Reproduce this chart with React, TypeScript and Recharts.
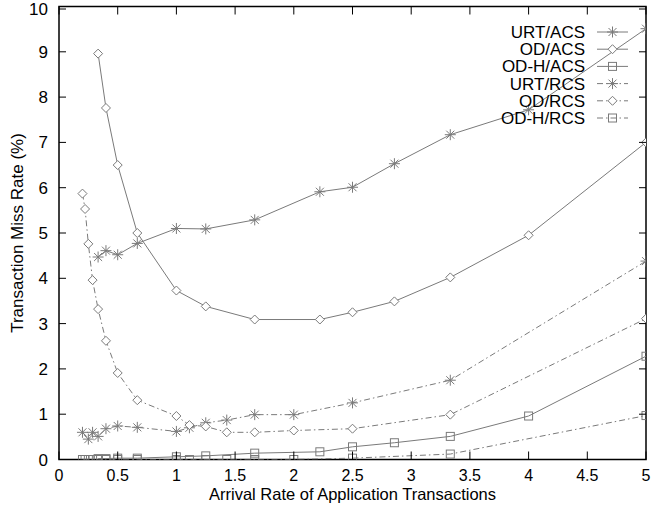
import { LineChart, Line, XAxis, YAxis, ReferenceArea } from 'recharts'

// arrival rates (x) used by the two scheduler families
const acsRates = [0.333, 0.4, 0.5, 0.667, 1, 1.25, 1.667, 2.222, 2.5, 2.857, 3.333, 4, 5]
const rcsRates = [0.2, 0.222, 0.25, 0.286, 0.333, 0.4, 0.5, 0.667, 1, 1.111, 1.25, 1.429, 1.667, 2, 2.5, 3.333, 5]
const rcsRatesUrt = [0.2, 0.25, 0.286, 0.333, 0.4, 0.5, 0.667, 1, 1.111, 1.25, 1.429, 1.667, 2, 2.5, 3.333, 5]

// miss rates (%)
const urtAcs = [4.47, 4.61, 4.52, 4.77, 5.1, 5.09, 5.29, 5.91, 6.01, 6.53, 7.17, 7.72, 9.51]
const odAcs = [8.96, 7.76, 6.5, 5.0, 3.73, 3.38, 3.09, 3.09, 3.25, 3.49, 4.02, 4.95, 7.0]
const odhAcs = [0.02, 0.02, 0.03, 0.03, 0.06, 0.08, 0.14, 0.17, 0.28, 0.37, 0.51, 0.96, 2.28]
const urtRcs = [0.6, 0.45, 0.6, 0.51, 0.68, 0.74, 0.71, 0.62, 0.7, 0.81, 0.87, 0.99, 0.99, 1.25, 1.75, 4.38]
const odRcs = [5.87, 5.53, 4.76, 3.96, 3.32, 2.62, 1.91, 1.31, 0.96, 0.76, 0.73, 0.6, 0.6, 0.64, 0.68, 0.99, 3.11]
const odhRcs = [0, 0, 0, 0, 0, 0, 0, 0, 0, 0, 0, 0, 0, 0, 0.03, 0.12, 0.97]

const xTicks = [0, 0.5, 1, 1.5, 2, 2.5, 3, 3.5, 4, 4.5, 5]
const yTicks = [0, 1, 2, 3, 4, 5, 6, 7, 8, 9, 10]

const FONT = "'Liberation Sans', Arial, Helvetica, sans-serif"
const GREY = '#7a7a7a'
const DASH_DOT = '6 3 1.5 3'

const PLOT_TOP = 6.5
const PLOT_BOTTOM = 459.5
const PLOT_LEFT = 59
const PLOT_RIGHT = 646

const zip = (xs: number[], ys: number[]) => xs.map((x, i) => ({ x, y: ys[i] }))

type MarkerKind = 'star' | 'diamond' | 'square'

const series: { name: string; data: { x: number; y: number }[]; marker: MarkerKind; dash?: string }[] = [
  { name: 'URT/ACS', data: zip(acsRates, urtAcs), marker: 'star' },
  { name: 'OD/ACS', data: zip(acsRates, odAcs), marker: 'diamond' },
  { name: 'OD-H/ACS', data: zip(acsRates, odhAcs), marker: 'square' },
  { name: 'URT/RCS', data: zip(rcsRatesUrt, urtRcs), marker: 'star', dash: DASH_DOT },
  { name: 'OD/RCS', data: zip(rcsRates, odRcs), marker: 'diamond', dash: DASH_DOT },
  { name: 'OD-H/RCS', data: zip(rcsRates, odhRcs), marker: 'square', dash: DASH_DOT },
]

function Marker({ cx, cy, kind }: { cx: number; cy: number; kind: MarkerKind }) {
  if (kind === 'star') {
    const r = 5.5
    const d = 4
    return (
      <g stroke={GREY} strokeWidth={1}>
        <line x1={cx - r} x2={cx + r} y1={cy} y2={cy} />
        <line x1={cx} x2={cx} y1={cy - r} y2={cy + r} />
        <line x1={cx - d} x2={cx + d} y1={cy - d} y2={cy + d} />
        <line x1={cx - d} x2={cx + d} y1={cy + d} y2={cy - d} />
      </g>
    )
  }
  if (kind === 'diamond') {
    const r = 4.5
    return (
      <path
        d={`M${cx},${cy - r} L${cx + r},${cy} L${cx},${cy + r} L${cx - r},${cy} Z`}
        fill="#fff"
        stroke={GREY}
        strokeWidth={1}
      />
    )
  }
  return <rect x={cx - 4} y={cy - 4} width={8} height={8} fill="none" stroke={GREY} strokeWidth={1} />
}

function XTick(props: any) {
  const { x, payload } = props
  return (
    <g>
      <line x1={x} x2={x} y1={PLOT_BOTTOM} y2={PLOT_BOTTOM - 8} stroke="#000" />
      <line x1={x} x2={x} y1={PLOT_TOP} y2={PLOT_TOP + 8} stroke="#000" />
      <text x={x} y={481} textAnchor="middle" fontSize={16} fontFamily={FONT} fill="#000">
        {payload.value}
      </text>
    </g>
  )
}

function YTick(props: any) {
  const { y, payload } = props
  return (
    <g>
      <line x1={PLOT_LEFT} x2={PLOT_LEFT + 7} y1={y} y2={y} stroke="#000" />
      <line x1={PLOT_RIGHT} x2={PLOT_RIGHT - 7} y1={y} y2={y} stroke="#000" />
      <text x={48} y={y + 6} textAnchor="end" fontSize={17} fontFamily={FONT} fill="#000">
        {payload.value}
      </text>
    </g>
  )
}

function ChartLegend() {
  return (
    <svg width={657} height={140} style={{ position: 'absolute', left: 0, top: 0, pointerEvents: 'none' }}>
      {series.map((s, i) => {
        const cy = 32 + i * 17.2
        return (
          <g key={s.name}>
            <text x={585} y={cy + 6} textAnchor="end" fontSize={17} fontFamily={FONT} fill="#000">
              {s.name}
            </text>
            <line x1={597} x2={628} y1={cy} y2={cy} stroke={GREY} strokeDasharray={s.dash} />
            <Marker cx={612.5} cy={cy} kind={s.marker} />
          </g>
        )
      })}
    </svg>
  )
}

export default function App() {
  return (
    <div style={{ position: 'absolute', left: 0, top: 0, width: 657, height: 505, background: '#fff' }}>
      <LineChart width={657} height={505} margin={{ top: PLOT_TOP, right: 657 - PLOT_RIGHT, left: 0, bottom: 0 }}>
        <XAxis
          type="number"
          dataKey="x"
          domain={[0, 5]}
          ticks={xTicks}
          allowDataOverflow
          axisLine={false}
          tickLine={false}
          tick={XTick}
          height={505 - PLOT_BOTTOM}
          label={{
            content: (p: any) => {
              const vb = p.viewBox || { x: PLOT_LEFT, width: PLOT_RIGHT - PLOT_LEFT }
              return (
                <text x={vb.x + vb.width / 2} y={500} textAnchor="middle" fontSize={16.5} fontFamily={FONT} fill="#000">
                  Arrival Rate of Application Transactions
                </text>
              )
            },
          }}
        />
        <YAxis
          type="number"
          domain={[0, 10]}
          ticks={yTicks}
          allowDataOverflow
          axisLine={false}
          tickLine={false}
          tick={YTick}
          width={PLOT_LEFT}
          label={{
            content: (p: any) => {
              const vb = p.viewBox || { y: PLOT_TOP, height: PLOT_BOTTOM - PLOT_TOP }
              const cy = vb.y + vb.height / 2
              return (
                <text
                  transform={`translate(17,${cy}) rotate(-90)`}
                  textAnchor="middle"
                  dominantBaseline="central"
                  fontSize={17}
                  fontFamily={FONT}
                  fill="#000"
                >
                  Transaction Miss Rate (%)
                </text>
              )
            },
          }}
        />
        <ReferenceArea x1={0} x2={5} y1={0} y2={10} fill="none" stroke="#000" strokeWidth={1.5} ifOverflow="visible" />
        {series.map((s) => (
          <Line
            key={s.name}
            data={s.data}
            dataKey="y"
            name={s.name}
            type="linear"
            stroke={GREY}
            strokeWidth={1}
            strokeDasharray={s.dash}
            dot={(p: any) => <Marker key={`${s.name}-${p.index}`} cx={p.cx} cy={p.cy} kind={s.marker} />}
            activeDot={false}
            isAnimationActive={false}
          />
        ))}
      </LineChart>
      <ChartLegend />
    </div>
  )
}
